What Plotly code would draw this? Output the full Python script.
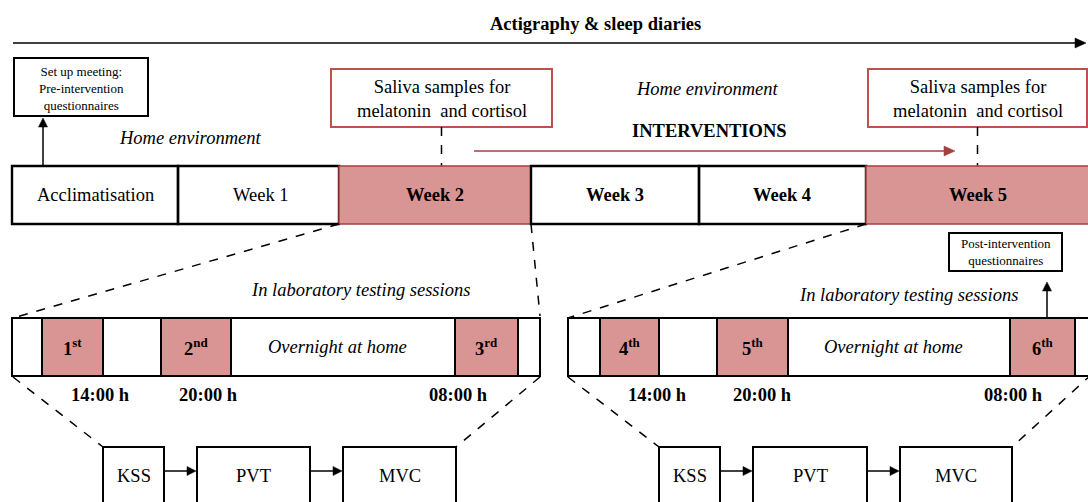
import plotly.graph_objects as go

# ---------------- data (labels) ----------------
title_text = "Actigraphy & sleep diaries"
week_labels = ["Acclimatisation", "Week 1", "Week 2", "Week 3", "Week 4", "Week 5"]
week_bold = [False, False, True, True, True, True]
week_highlight = [False, False, True, False, False, True]
session_labels_a = ["1<sup>st</sup>", "2<sup>nd</sup>", "3<sup>rd</sup>"]
session_labels_b = ["4<sup>th</sup>", "5<sup>th</sup>", "6<sup>th</sup>"]
time_labels = ["14:00 h", "20:00 h", "08:00 h"]
test_labels = ["KSS", "PVT", "MVC"]
saliva_text = "Saliva samples for<br>melatonin  and cortisol"
pre_text = "Set up meeting:<br>Pre-intervention<br>questionnaires"
post_text = "Post-intervention<br>questionnaires"
home_text = "<i>Home environment</i>"
lab_text = "<i>In laboratory testing sessions</i>"
overnight_text = "<i>Overnight at home</i>"
interv_text = "<b>INTERVENTIONS</b>"

# ---------------- layout geometry (page pixels) ----------------
W, H = 1088, 502
FONT = "Liberation Serif, Times New Roman, serif"
PINK = "#d99594"
RED_BORDER = "#c0504d"
DARK_RED = "#a3403e"
FS = 18.5

week_edges = [12, 178, 339, 531, 699, 866, 1100]
week_text_x = [95, 261, 435, 615, 782, 978]
week_y = (166, 224)

lab_y = (318, 376)
lab_a_edges = [12, 42, 103, 161, 231, 455, 518, 540]
lab_b_edges = [568, 600, 659, 717, 788, 1010, 1075, 1100]
pink_idx = [1, 3, 5]
time_x_a = [100, 208, 458]
time_x_b = [657, 762, 1013]

flow_a = [(103, 164), (197, 310), (343, 456)]
flow_b = [(659, 720), (753, 867), (900, 1012)]
flow_y = (447, 520)

shapes = []
annotations = []


def rect(x0, y0, x1, y1, line="black", width=2, fill="rgba(0,0,0,0)"):
    shapes.append(dict(type="rect", xref="x", yref="y", x0=x0, y0=y0, x1=x1, y1=y1,
                       line=dict(color=line, width=width), fillcolor=fill, layer="above"))


def line(x0, y0, x1, y1, color="black", width=1.5, dash="solid"):
    shapes.append(dict(type="line", xref="x", yref="y", x0=x0, y0=y0, x1=x1, y1=y1,
                       line=dict(color=color, width=width, dash=dash), layer="above"))


def text(x, y, t, size=FS, color="black"):
    annotations.append(dict(x=x, y=y, xref="x", yref="y", text=t, showarrow=False,
                            font=dict(family=FONT, size=size, color=color),
                            xanchor="center", yanchor="middle", align="center"))


def arrow(x0, y0, x1, y1, color="black", width=1.5, hl=10, hw=5):
    # line + filled triangular head; only horizontal / vertical arrows are used
    dx = 0 if x1 == x0 else (1 if x1 > x0 else -1)
    dy = 0 if y1 == y0 else (1 if y1 > y0 else -1)
    bx, by = x1 - dx * hl, y1 - dy * hl
    line(x0, y0, bx, by, color=color, width=width)
    px, py = -dy * hw, dx * hw
    path = f"M {x1},{y1} L {bx + px},{by + py} L {bx - px},{by - py} Z"
    shapes.append(dict(type="path", xref="x", yref="y", path=path, fillcolor=color,
                       line=dict(color=color, width=0.5), layer="above"))


# top arrow + title
text(595, 24, "<b>" + title_text + "</b>", size=FS)
arrow(13, 43, 1086, 43, width=1.5, hl=11, hw=5)

# pre-intervention box
rect(14, 58, 148, 116, width=2)
text(81, 88, pre_text, size=13)
arrow(43, 166, 43, 118, width=1.5, hl=9, hw=4.5)

text(190, 138, home_text, size=FS)
text(707, 89, home_text, size=FS)
text(709, 131, interv_text, size=FS)
arrow(474, 151, 955, 151, color=DARK_RED, width=1.5, hl=11, hw=5)

# saliva boxes
for (x0, x1) in [(331, 552), (868, 1087)]:
    rect(x0, 69, x1, 127, line=RED_BORDER, width=2)
    cx = (x0 + x1) / 2
    text(cx, 99, saliva_text, size=FS)
    line(cx, 127, cx, 166, dash="dash")

# week row
for i, lab in enumerate(week_labels):
    x0, x1 = week_edges[i], week_edges[i + 1]
    if week_highlight[i]:
        rect(x0, week_y[0], x1, week_y[1], line=DARK_RED, width=1.5, fill=PINK)
    else:
        rect(x0, week_y[0], x1, week_y[1], line="black", width=2.4)
    t = "<b>" + lab + "</b>" if week_bold[i] else lab
    text(week_text_x[i], 195, t, size=FS)

# connectors week -> lab
line(339, 224, 13, 318, dash="dash")
line(531, 224, 540, 316, dash="dash")
line(866, 224, 568, 318, dash="dash")

# post-intervention
rect(949, 233, 1062, 271, width=2)
text(1005.5, 252, post_text, size=13)
arrow(1047, 318, 1047, 282, width=1.5, hl=9, hw=4.5)

text(360, 290, lab_text, size=FS)
text(908, 295, lab_text, size=FS)


def lab_bar(edges, labels, time_x, over_cx):
    for j in range(len(edges) - 1):
        x0, x1 = edges[j], edges[j + 1]
        fill = PINK if j in pink_idx else "white"
        rect(x0, lab_y[0], x1, lab_y[1], line="black", width=2, fill=fill)
    for k, j in enumerate(pink_idx):
        cx = (edges[j] + edges[j + 1]) / 2
        text(cx, 347, "<b>" + labels[k] + "</b>", size=FS)
        text(time_x[k], 395, "<b>" + time_labels[k] + "</b>", size=FS)
    text(over_cx, 347, overnight_text, size=FS)


lab_bar(lab_a_edges, session_labels_a, time_x_a, 337)
lab_bar(lab_b_edges, session_labels_b, time_x_b, 893)

# connectors lab -> flow
line(13, 377, 103, 447, dash="dash")
line(540, 377, 456, 447, dash="dash")
line(568, 377, 659, 447, dash="dash")
line(1092, 374, 1012, 447, dash="dash")


def flow(boxes):
    for k, (x0, x1) in enumerate(boxes):
        rect(x0, flow_y[0], x1, flow_y[1], width=2)
        text((x0 + x1) / 2, 476, test_labels[k], size=FS)
        if k < len(boxes) - 1:
            arrow(x1 + 1, 471, boxes[k + 1][0] - 1, 471, width=1.5, hl=9, hw=4.5)


flow(flow_a)
flow(flow_b)

fig = go.Figure()
fig.update_layout(
    width=W, height=H,
    margin=dict(l=0, r=0, t=0, b=0),
    paper_bgcolor="white", plot_bgcolor="white",
    xaxis=dict(range=[0, W], visible=False, fixedrange=True),
    yaxis=dict(range=[H, 0], visible=False, fixedrange=True),
    shapes=shapes, annotations=annotations, showlegend=False,
)
fig.write_html("out.html", config={"displayModeBar": False},
               post_script="document.body.style.margin='0';document.body.style.overflow='hidden';")
